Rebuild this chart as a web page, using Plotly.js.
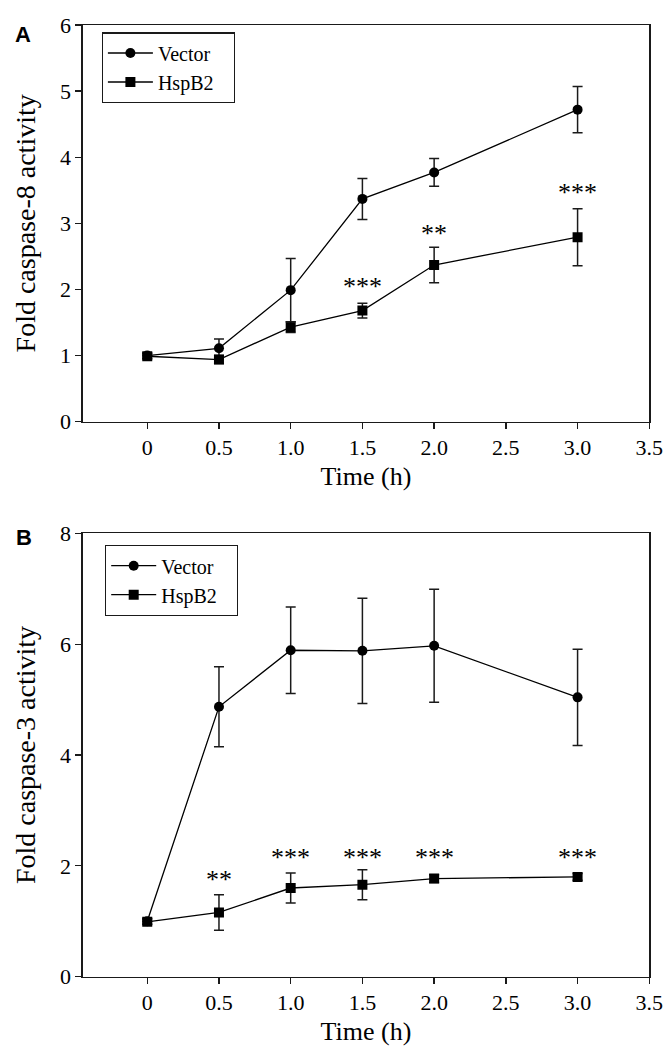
<!DOCTYPE html>
<html>
<head>
<meta charset="utf-8">
<script src="https://cdn.plot.ly/plotly-3.0.1.min.js"></script>
<style>html,body{margin:0;padding:0;background:#fff;}#chart{width:665px;height:1050px;}</style>
</head>
<body>
<div id="chart"></div>
<script>
// ---- data ----
const time = [0, 0.5, 1.0, 1.5, 2.0, 3.0];
const xTickVals = [0, 0.5, 1.0, 1.5, 2.0, 2.5, 3.0, 3.5];
const xTickText = ['0', '0.5', '1.0', '1.5', '2.0', '2.5', '3.0', '3.5'];
const seriesNames = ['Vector', 'HspB2'];

// Panel A: caspase-8
const vectorA = [1.00, 1.11, 1.99, 3.37, 3.77, 4.72];
const vectorAErr = [0.04, 0.14, 0.48, 0.31, 0.21, 0.35];
const hspA = [0.99, 0.94, 1.43, 1.68, 2.37, 2.79];
const hspAErr = [0.04, 0.06, 0.08, 0.11, 0.27, 0.43];
const sigA = ['', '', '', '***', '**', '***'];
const sigAY = [null, null, null, 2.04, 2.85, 3.47];

// Panel B: caspase-3
const vectorB = [1.00, 4.87, 5.89, 5.88, 5.97, 5.04];
const vectorBErr = [0.05, 0.72, 0.78, 0.95, 1.02, 0.87];
const hspB = [0.99, 1.16, 1.60, 1.66, 1.77, 1.80];
const hspBErr = [0.05, 0.32, 0.27, 0.27, 0.07, 0.06];
const sigB = ['', '**', '***', '***', '***', '***'];
const sigBY = [null, 1.76, 2.15, 2.15, 2.15, 2.15];

// ---- styling ----
const SERIF = '"Liberation Serif", "Times New Roman", serif';
const BLACK = '#000000';
const AX = '#1a1a1a';
const PAD = '\u00a0\u00a0\u00a0';

function series(name, x, y, err, symbol, xa, ya, legend) {
  return {
    type: 'scatter', mode: 'lines+markers', name: name + PAD,
    x: x, y: y, xaxis: xa, yaxis: ya, legend: legend,
    line: {color: BLACK, width: 1.3},
    marker: {symbol: symbol, size: 10, color: BLACK},
    error_y: {type: 'data', array: err, visible: true, color: AX, thickness: 1.5, width: 5}
  };
}

const traces = [
  series(seriesNames[0], time, vectorA, vectorAErr, 'circle', 'x', 'y', 'legend'),
  series(seriesNames[1], time, hspA, hspAErr, 'square', 'x', 'y', 'legend'),
  series(seriesNames[0], time, vectorB, vectorBErr, 'circle', 'x2', 'y2', 'legend2'),
  series(seriesNames[1], time, hspB, hspBErr, 'square', 'x2', 'y2', 'legend2')
];

function starAnnots(labels, ys, xref, yref) {
  const out = [];
  labels.forEach((t, i) => {
    if (t) out.push({x: time[i], y: ys[i], xref: xref, yref: yref, text: t, showarrow: false,
      xanchor: 'center', yanchor: 'middle', font: {family: SERIF, size: 26, color: BLACK}});
  });
  return out;
}

const W = 665, H = 1050;
const xDom = [82.7 / W, 649.3 / W];
const yDomA = [1 - 421.7 / H, 1 - 25 / H];
const yDomB = [1 - 976.7 / H, 1 - 533.3 / H];

function xAxis(anchor) {
  return {
    domain: xDom, anchor: anchor, range: [-0.45, 3.5], tickmode: 'array',
    tickvals: xTickVals, ticktext: xTickText, ticks: 'outside', ticklen: 6, tickwidth: 1.3, tickcolor: AX,
    showline: true, linecolor: AX, linewidth: 1.3, mirror: true, showgrid: false, zeroline: false,
    tickfont: {family: SERIF, size: 22, color: BLACK},
    title: {text: 'Time (h)', font: {family: SERIF, size: 26, color: BLACK}, standoff: 7},
    automargin: false
  };
}
function yAxis(anchor, dom, range, dtick, title) {
  return {
    domain: dom, anchor: anchor, range: range, dtick: dtick, tick0: 0,
    ticks: 'outside', ticklen: 6, tickwidth: 1.3, tickcolor: AX,
    showline: true, linecolor: AX, linewidth: 1.3, mirror: true, showgrid: false, zeroline: false,
    tickfont: {family: SERIF, size: 22, color: BLACK},
    title: {text: title, font: {family: SERIF, size: 28, color: BLACK}, standoff: 16},
    automargin: false
  };
}

const legendStyle = (x, y) => ({
  x: x, y: y, xref: 'paper', yref: 'paper', xanchor: 'left', yanchor: 'top',
  bgcolor: '#ffffff', bordercolor: AX, borderwidth: 1.2, itemwidth: 45,
  font: {family: SERIF, size: 20, color: BLACK}, tracegroupgap: 0
});

const layout = {
  width: W, height: H,
  margin: {l: 0, r: 0, t: 0, b: 0},
  paper_bgcolor: '#ffffff', plot_bgcolor: '#ffffff',
  xaxis: xAxis('y'),
  yaxis: yAxis('x', yDomA, [0, 6], 1, 'Fold caspase-8 activity'),
  xaxis2: xAxis('y2'),
  yaxis2: yAxis('x2', yDomB, [0, 8], 2, 'Fold caspase-3 activity'),
  legend: legendStyle(101.7 / W, 1 - 32.3 / H),
  legend2: legendStyle(105 / W, 1 - 545 / H),
  annotations: [
    ...starAnnots(sigA, sigAY, 'x', 'y'),
    ...starAnnots(sigB, sigBY, 'x2', 'y2'),
    {x: 23 / W, y: 1 - 34 / H, xref: 'paper', yref: 'paper', text: '<b>A</b>', showarrow: false,
      xanchor: 'center', yanchor: 'middle', font: {family: '"Liberation Sans", Arial, sans-serif', size: 22, color: BLACK}},
    {x: 24 / W, y: 1 - 537 / H, xref: 'paper', yref: 'paper', text: '<b>B</b>', showarrow: false,
      xanchor: 'center', yanchor: 'middle', font: {family: '"Liberation Sans", Arial, sans-serif', size: 22, color: BLACK}}
  ],
  showlegend: true
};

Plotly.newPlot('chart', traces, layout, {staticPlot: true, displayModeBar: false});
</script>
</body>
</html>
